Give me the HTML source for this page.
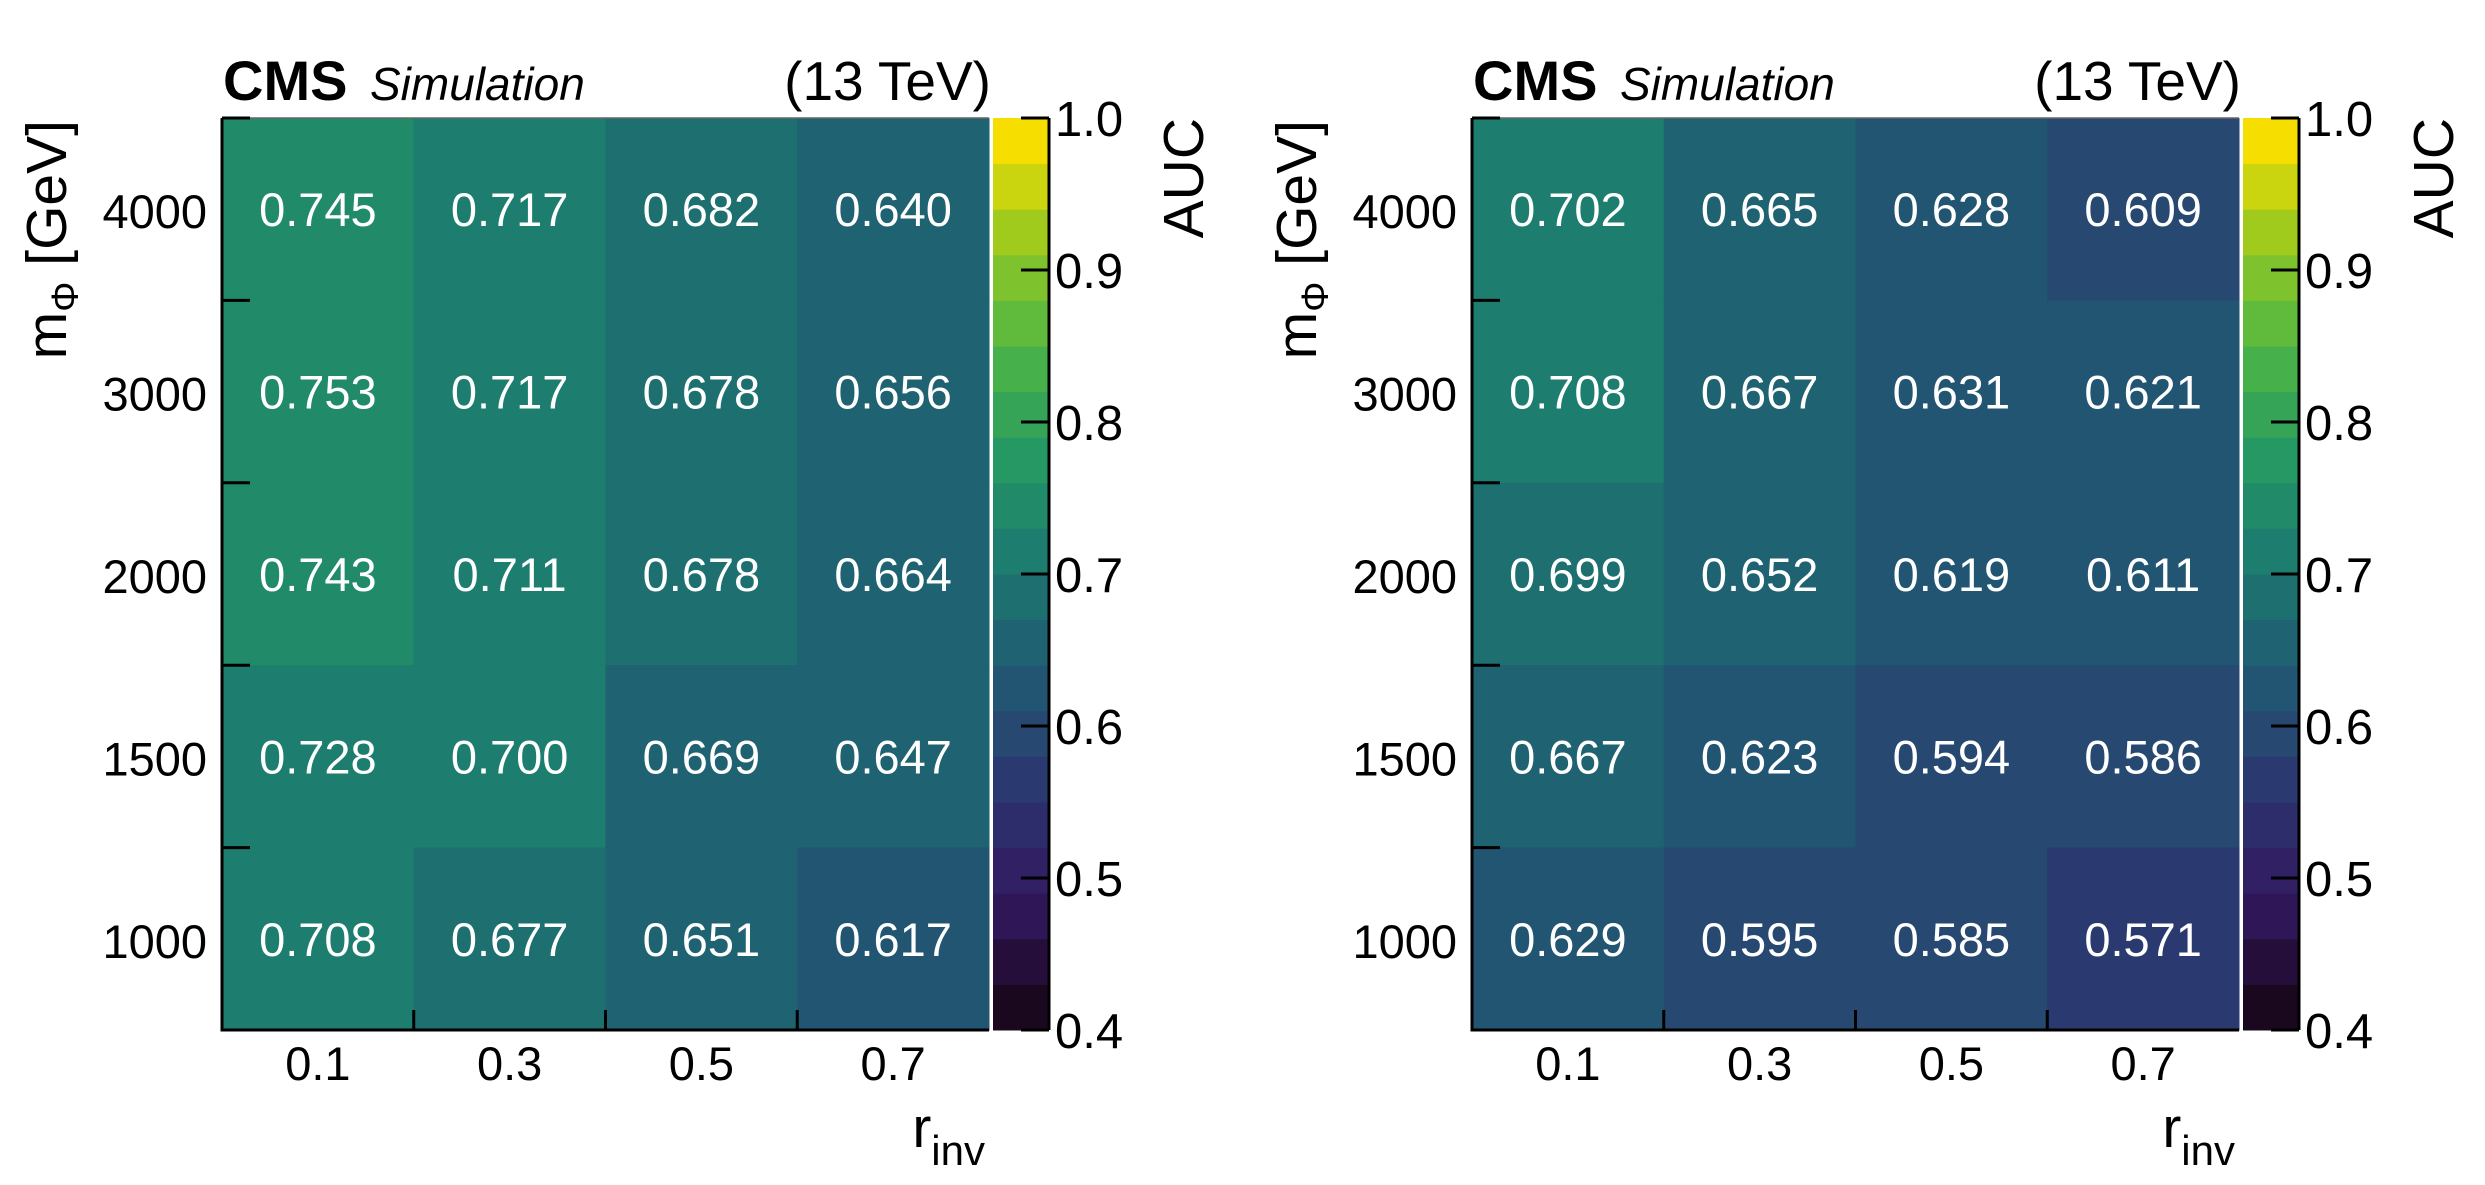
<!DOCTYPE html>
<html><head><meta charset="utf-8"><style>
html,body{margin:0;padding:0;background:#fff;}
svg{display:block;font-family:"Liberation Sans",sans-serif;}
</style></head><body>
<svg id="chart" width="2485" height="1185" viewBox="0 0 2485 1185" xmlns="http://www.w3.org/2000/svg"></svg>
<script>
const xCategories = ["0.1","0.3","0.5","0.7"];
const yCategories = ["4000","3000","2000","1500","1000"];
const leftValues = [
 [0.745,0.717,0.682,0.640],
 [0.753,0.717,0.678,0.656],
 [0.743,0.711,0.678,0.664],
 [0.728,0.700,0.669,0.647],
 [0.708,0.677,0.651,0.617]];
const rightValues = [
 [0.702,0.665,0.628,0.609],
 [0.708,0.667,0.631,0.621],
 [0.699,0.652,0.619,0.611],
 [0.667,0.623,0.594,0.586],
 [0.629,0.595,0.585,0.571]];
const zTicks = ["0.4","0.5","0.6","0.7","0.8","0.9","1.0"];
const zMin = 0.4, zMax = 1.0, nBands = 20;

const NS="http://www.w3.org/2000/svg";
const svg=document.getElementById('chart');
function mk(tag,attrs,parent){const e=document.createElementNS(NS,tag);for(const k in attrs)e.setAttribute(k,attrs[k]);(parent||svg).appendChild(e);return e;}
const stops=[0,0.125,0.25,0.375,0.5,0.625,0.75,0.875,1];
const R=[26,51,43,33,28,35,74,144,246],G=[9,24,55,87,118,150,180,200,222],B=[30,96,112,114,112,101,72,35,0];
function viridis(t){t=Math.max(0,Math.min(1,t));let i=Math.min(7,Math.floor(t/0.125));const f=(t-stops[i])/0.125;
 const c=a=>Math.round(a[i]+(a[i+1]-a[i])*f);return `rgb(${c(R)},${c(G)},${c(B)})`;}
function bandOf(v){return Math.max(0,Math.min(nBands-1,Math.floor((v-zMin)/((zMax-zMin)/nBands)+1e-9)));}
function colorOf(v){return viridis(bandOf(v)/(nBands-1));}

const PL=222,PR=989,PT=118,PB=1030;
function panel(values,dx,name){
 const g=mk('g',{transform:`translate(${dx},0)`});
 
 
 const cw=(PR-PL)/xCategories.length, ch=(PB-PT)/yCategories.length;
 const xPos=i=>PL+i*cw, yPos=j=>PT+j*ch;
 values.forEach((row,j)=>row.forEach((v,i)=>{
  const r=mk('rect',{x:xPos(i),y:yPos(j),width:cw+0.5,height:ch+0.5,fill:colorOf(v)},g);
  
  
  const t=mk('text',{x:xPos(i)+cw/2,y:yPos(j)+ch/2+17,'text-anchor':'middle','font-size':47,fill:'#fff'},g);
  t.textContent=v.toFixed(3);
  
  
 }));
 // axes
 const ax=mk('line',{x1:PL,x2:PL,y1:PT,y2:PB+1.5,stroke:'#000','stroke-width':3},g);
 
 
 const bx=mk('line',{x1:PL-1.5,x2:PR,y1:PB,y2:PB,stroke:'#000','stroke-width':3},g);
 
 
 mk('line',{x1:PL,x2:PR,y1:PT,y2:PT,stroke:'#666','stroke-width':1.5},g);
 for(let j=1;j<yCategories.length;j++)mk('line',{x1:PL,x2:PL+28,y1:yPos(j),y2:yPos(j),stroke:'#000','stroke-width':3},g);
 mk('line',{x1:PL,x2:PL+28,y1:PT,y2:PT,stroke:'#000','stroke-width':3},g);
 for(let i=1;i<xCategories.length;i++)mk('line',{x1:xPos(i),x2:xPos(i),y1:PB,y2:PB-20,stroke:'#000','stroke-width':3},g);
 yCategories.forEach((c,j)=>{const t=mk('text',{x:207,y:yPos(j)+ch/2+19,'text-anchor':'end','font-size':47},g);t.textContent=c;
  
  });
 xCategories.forEach((c,i)=>{const t=mk('text',{x:xPos(i)+cw/2,y:1080,'text-anchor':'middle','font-size':47},g);t.textContent=c;
  
  });
 // colorbar
 const CL=993,CR=1049,bh=(PB-PT)/nBands;
 for(let b=0;b<nBands;b++){const r=mk('rect',{x:CL,y:PB-(b+1)*bh,width:CR-CL,height:bh+0.5,fill:viridis(b/(nBands-1))},g);
  
  }
 mk('line',{x1:CR,x2:CR,y1:PT,y2:PB,stroke:'#000','stroke-width':3},g);
 mk('line',{x1:CL+28,x2:CR,y1:PB,y2:PB,stroke:'#000','stroke-width':3},g);
 zTicks.forEach(z=>{const y=PB-(parseFloat(z)-zMin)/(zMax-zMin)*(PB-PT);
  mk('line',{x1:CR-28,x2:CR,y1:y,y2:y,stroke:'#000','stroke-width':3},g);
  const t=mk('text',{x:1055,y:y+18,'font-size':49},g);t.textContent=z;
  
  });
 const a=mk('text',{transform:'translate(1203,118) rotate(-90)','text-anchor':'end','font-size':57},g);a.textContent='AUC';
 
 
 const cms=mk('text',{x:223,y:100,'font-size':56,'font-weight':'bold'},g);cms.textContent='CMS';
 
 
 const sim=mk('text',{x:370,y:100,'font-size':46,'font-style':'italic'},g);sim.textContent='Simulation';
 
 
 const en=mk('text',{x:991,y:100,'text-anchor':'end','font-size':55},g);en.textContent='(13 TeV)';
 
 
 const yt=mk('text',{transform:'translate(66,120) rotate(-90)','text-anchor':'end','font-size':57},g);
 yt.innerHTML='m<tspan font-size="38" dy="12">Φ</tspan><tspan dy="-12"> [GeV]</tspan>';
 
 
 const xt=mk('text',{x:985,y:1147,'text-anchor':'end','font-size':57},g);
 xt.innerHTML='r<tspan font-size="42" dy="18">inv</tspan>';
 
 
}
panel(leftValues,0,'left-panel');
panel(rightValues,1250,'right-panel');
</script>
</body></html>
